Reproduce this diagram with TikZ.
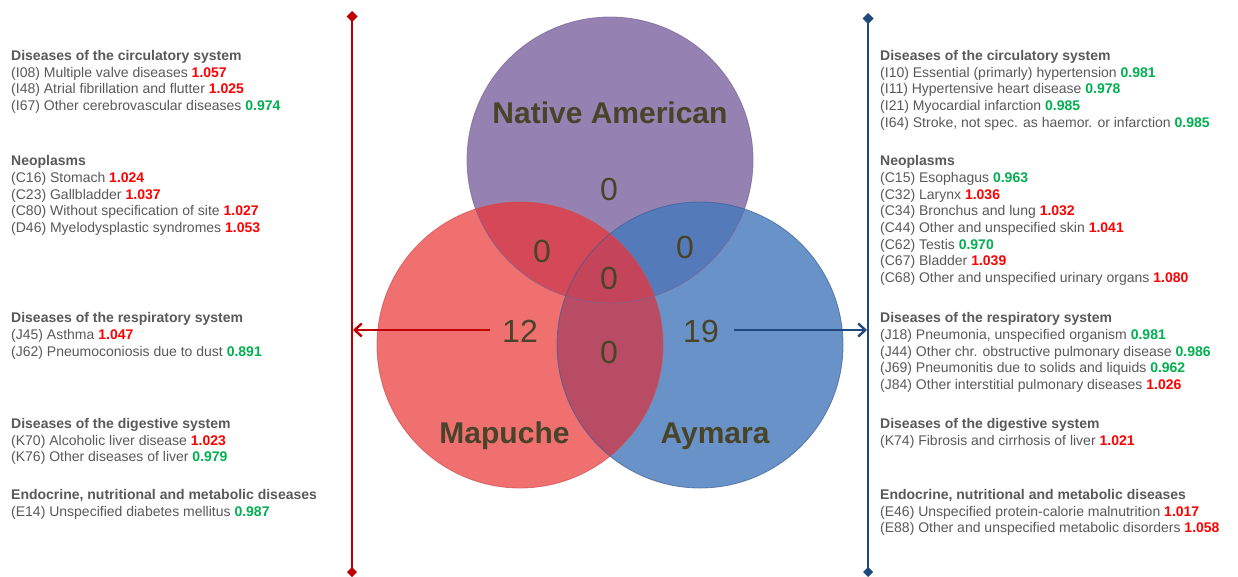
\documentclass[tikz,border=0pt]{standalone}
\usepackage{fontspec}
\setmainfont{Liberation Sans}
\usetikzlibrary{arrows.meta}
\definecolor{textgray}{RGB}{89,89,89}
\definecolor{valred}{RGB}{255,0,0}
\definecolor{valgreen}{RGB}{0,176,80}
\definecolor{labcol}{RGB}{73,68,41}
\definecolor{linered}{RGB}{192,0,0}
\definecolor{lineblue}{RGB}{31,73,125}
\definecolor{pcol}{RGB}{150,130,178}
\definecolor{rcol}{RGB}{240,112,112}
\definecolor{bcol}{RGB}{104,146,200}
\definecolor{prcol}{RGB}{212,72,88}
\definecolor{pbcol}{RGB}{84,122,186}
\definecolor{rbcol}{RGB}{184,76,100}
\definecolor{prbcol}{RGB}{196,68,90}
\definecolor{pline}{RGB}{120,100,150}
\definecolor{rline}{RGB}{205,80,80}
\definecolor{bline}{RGB}{60,95,150}
\newcommand\upval[1]{\textcolor{valred}{\textbf{#1}}}
\newcommand\dnval[1]{\textcolor{valgreen}{\textbf{#1}}}
\begin{document}
\begin{tikzpicture}[x=1pt,y=-1pt,
  item/.style={anchor=base west, inner sep=0pt, text=textgray, font=\fontsize{14}{16}\selectfont},
  head/.style={item, font=\bfseries\fontsize{14}{16}\selectfont},
  setlabel/.style={anchor=base, inner sep=0pt, text=labcol, font=\bfseries\fontsize{30}{36}\selectfont},
  count/.style={anchor=base, inner sep=0pt, text=labcol, font=\fontsize{32}{38}\selectfont},
  vline/.style={line width=2.8pt, {Diamond[length=11pt,width=11pt]}-{Diamond[length=10pt,width=10pt]}},
  harrow/.style={line width=2.6pt, -{Straight Barb[length=7pt,width=13pt,line width=2.4pt]}}]
\useasboundingbox (0,0) rectangle (1238,576);
\fill[white] (0,0) rectangle (1238,576);

% Venn circles
\fill[pcol] (610,160) circle[radius=143];
\fill[rcol] (520,345) circle[radius=143];
\fill[bcol] (700,345) circle[radius=143];
\begin{scope}
  \clip (610,160) circle[radius=143];
  \fill[prcol] (520,345) circle[radius=143];
  \fill[pbcol] (700,345) circle[radius=143];
\end{scope}
\begin{scope}
  \clip (520,345) circle[radius=143];
  \fill[rbcol] (700,345) circle[radius=143];
  \clip (610,160) circle[radius=143];
  \fill[prbcol] (700,345) circle[radius=143];
\end{scope}
\draw[pline, line width=0.8pt, opacity=0.7] (610,160) circle[radius=143];
\draw[rline, line width=0.8pt, opacity=0.7] (520,345) circle[radius=143];
\draw[bline, line width=0.8pt, opacity=0.7] (700,345) circle[radius=143];

% set labels and counts
\node[setlabel] (lna) at (610,123) {Native American};
\node[setlabel] (lma) at (504.5,443) {Mapuche};
\node[setlabel] (lay) at (715,443) {Aymara};
\node[count] (cp) at (609,200) {0};
\node[count] (cpr) at (542,262) {0};
\node[count] (cpb) at (685,258) {0};
\node[count] (cprb) at (609,289) {0};
\node[count] (n12) at (520,342) {12};
\node[count] (crb) at (609,363) {0};
\node[count] (n19) at (701,342) {19};

% vertical lines and arrows
\coordinate (redtop) at (352,11);
\coordinate (redbot) at (352,577);
\coordinate (redhit) at (353,330);
\coordinate (bluetop) at (868,13);
\coordinate (bluebot) at (868,577);
\coordinate (bluehit) at (867,330);
\draw[vline, linered] (redtop) -- (redbot);
\draw[vline, lineblue] (bluetop) -- (bluebot);
\draw[harrow, linered] ([xshift=-12pt]n12.west |- redhit) -- (redhit);
\draw[harrow, lineblue] ([xshift=15pt]n19.east |- bluehit) -- (bluehit);

% left lists
\node[head] (lh1) at (11,60.5) {Diseases of the circulatory system};
\node[item] (l11) at (11,77.2) {(I08) Multiple valve diseases \upval{1.057}};
\node[item] (l12) at (11,93.9) {(I48) Atrial fibrillation and flutter \upval{1.025}};
\node[item] (l13) at (11,110.6) {(I67) Other cerebrovascular diseases \dnval{0.974}};
\node[head] (lh2) at (11,165.7) {Neoplasms};
\node[item] (l21) at (11,182.4) {(C16) Stomach \upval{1.024}};
\node[item] (l22) at (11,199.1) {(C23) Gallbladder \upval{1.037}};
\node[item] (l23) at (11,215.8) {(C80) Without specification of site \upval{1.027}};
\node[item] (l24) at (11,232.5) {(D46) Myelodysplastic syndromes \upval{1.053}};
\node[head] (lh3) at (11,322.7) {Diseases of the respiratory system};
\node[item] (l31) at (11,339.4) {(J45) Asthma \upval{1.047}};
\node[item] (l32) at (11,356.1) {(J62) Pneumoconiosis due to dust \dnval{0.891}};
\node[head] (lh4) at (11,428.3) {Diseases of the digestive system};
\node[item] (l41) at (11,445) {(K70) Alcoholic liver disease \upval{1.023}};
\node[item] (l42) at (11,461.7) {(K76) Other diseases of liver \dnval{0.979}};
\node[head] (lh5) at (11,499.3) {Endocrine, nutritional and metabolic diseases};
\node[item] (l51) at (11,516) {(E14) Unspecified diabetes mellitus \dnval{0.987}};

% right lists
\node[head] (rh1) at (880,60.5) {Diseases of the circulatory system};
\node[item] (r11) at (880,77.2) {(I10) Essential (primarly) hypertension \dnval{0.981}};
\node[item] (r12) at (880,93.9) {(I11) Hypertensive heart disease \dnval{0.978}};
\node[item] (r13) at (880,110.6) {(I21) Myocardial infarction \dnval{0.985}};
\node[item] (r14) at (880,127.3) {(I64) Stroke, not spec. as haemor. or infarction \dnval{0.985}};
\node[head] (rh2) at (880,165.7) {Neoplasms};
\node[item] (r21) at (880,182.4) {(C15) Esophagus \dnval{0.963}};
\node[item] (r22) at (880,199.1) {(C32) Larynx \upval{1.036}};
\node[item] (r23) at (880,215.8) {(C34) Bronchus and lung \upval{1.032}};
\node[item] (r24) at (880,232.5) {(C44) Other and unspecified skin \upval{1.041}};
\node[item] (r25) at (880,249.2) {(C62) Testis \dnval{0.970}};
\node[item] (r26) at (880,265.9) {(C67) Bladder \upval{1.039}};
\node[item] (r27) at (880,282.6) {(C68) Other and unspecified urinary organs \upval{1.080}};
\node[head] (rh3) at (880,322.7) {Diseases of the respiratory system};
\node[item] (r31) at (880,339.4) {(J18) Pneumonia, unspecified organism \dnval{0.981}};
\node[item] (r32) at (880,356.1) {(J44) Other chr. obstructive pulmonary disease \dnval{0.986}};
\node[item] (r33) at (880,372.8) {(J69) Pneumonitis due to solids and liquids \dnval{0.962}};
\node[item] (r34) at (880,389.5) {(J84) Other interstitial pulmonary diseases \upval{1.026}};
\node[head] (rh4) at (880,428.3) {Diseases of the digestive system};
\node[item] (r41) at (880,445) {(K74) Fibrosis and cirrhosis of liver \upval{1.021}};
\node[head] (rh5) at (880,499.3) {Endocrine, nutritional and metabolic diseases};
\node[item] (r51) at (880,516) {(E46) Unspecified protein-calorie malnutrition \upval{1.017}};
\node[item] (r52) at (880,532.7) {(E88) Other and unspecified metabolic disorders \upval{1.058}};
\end{tikzpicture}
\end{document}
